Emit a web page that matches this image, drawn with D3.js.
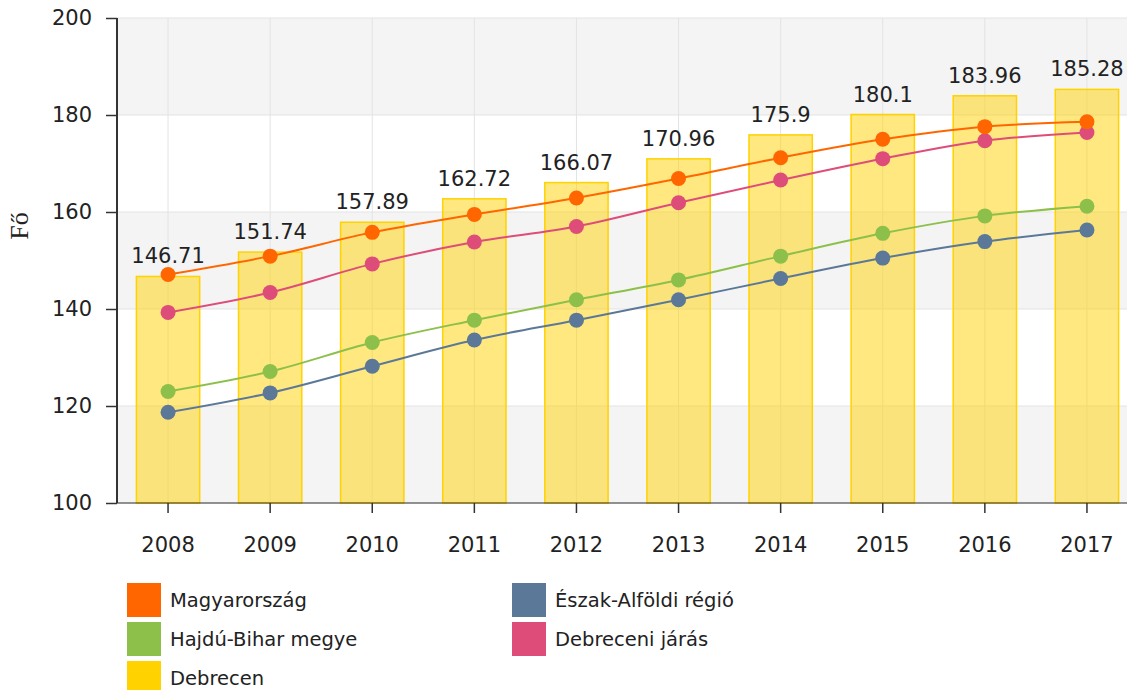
<!DOCTYPE html>
<html>
<head>
<meta charset="utf-8">
<script src="https://cdn.jsdelivr.net/npm/d3@7"></script>
<style>
  body { margin: 0; background: #fff; }
  text { font-family: "DejaVu Sans", Verdana, sans-serif; fill: #222; }
</style>
</head>
<body>
<script>
// data
var years = ["2008", "2009", "2010", "2011", "2012", "2013", "2014", "2015", "2016", "2017"];
var debrecen = [146.71, 151.74, 157.89, 162.72, 166.07, 170.96, 175.9, 180.1, 183.96, 185.28];
var magyarorszag = [147.1, 150.9, 155.8, 159.5, 162.9, 166.9, 171.2, 175.0, 177.6, 178.6];
var debreceniJaras = [139.3, 143.4, 149.3, 153.8, 157.0, 161.9, 166.6, 171.0, 174.7, 176.4];
var hajduBihar = [123.0, 127.1, 133.1, 137.7, 141.9, 146.0, 150.9, 155.6, 159.2, 161.2];
var eszakAlfold = [118.7, 122.7, 128.2, 133.6, 137.7, 141.9, 146.3, 150.5, 153.9, 156.3];
var yTicks = [100, 120, 140, 160, 180, 200];

var lineSeries = [
  {name: "Észak-Alföldi régió", values: eszakAlfold, color: "#5b7898"},
  {name: "Hajdú-Bihar megye", values: hajduBihar, color: "#8dc04a"},
  {name: "Debreceni járás", values: debreceniJaras, color: "#de4c79"},
  {name: "Magyarország", values: magyarorszag, color: "#ff6600"}
];

var legendItems = [
  {name: "Magyarország", color: "#ff6600"},
  {name: "Észak-Alföldi régió", color: "#5b7898"},
  {name: "Hajdú-Bihar megye", color: "#8dc04a"},
  {name: "Debreceni járás", color: "#de4c79"},
  {name: "Debrecen", color: "#ffd200"}
];

function makeChart() {
  const width = 1127, height = 690;
  const left = 117, right = 1138, top = 18, bottom = 503;

  const svg = d3.select("body").append("svg")
    .attr("width", width)
    .attr("height", height);

  let x = d3.scaleBand()
    .domain(years)
    .range([left, right])
    .paddingInner(0.38)
    .paddingOuter(0.19);
  let xc = function(d) { return x(d) + x.bandwidth() / 2; };

  let y = d3.scaleLinear()
    .domain([100, 200])
    .range([bottom, top]);

  // alternating background bands
  var bands = [];
  for (var i = 0; i < yTicks.length - 1; i++) {
    bands.push({from: yTicks[i], to: yTicks[i + 1], grey: i % 2 === 0});
  }
  svg.selectAll(".band")
    .data(bands).enter().append("rect")
      .attr("x", left)
      .attr("y", function(d) { return y(d.to); })
      .attr("width", width - left)
      .attr("height", function(d) { return y(d.from) - y(d.to); })
      .attr("fill", function(d) { return d.grey ? "#f4f4f4" : "#ffffff"; });

  // grid
  svg.selectAll(".hgrid")
    .data(yTicks).enter().append("line")
      .attr("x1", left).attr("x2", width)
      .attr("y1", function(d) { return y(d); })
      .attr("y2", function(d) { return y(d); })
      .attr("stroke", "#e3e3e3");
  svg.selectAll(".vgrid")
    .data(years).enter().append("line")
      .attr("x1", xc).attr("x2", xc)
      .attr("y1", top).attr("y2", bottom)
      .attr("stroke", "#e3e3e3");

  // bars (Debrecen)
  svg.selectAll(".bar")
    .data(debrecen).enter().append("rect")
      .attr("class", "bar")
      .attr("x", function(d, i) { return x(years[i]); })
      .attr("y", function(d) { return y(d); })
      .attr("width", x.bandwidth())
      .attr("height", function(d) { return bottom - y(d); })
      .attr("fill", "#ffd200")
      .attr("fill-opacity", 0.5)
      .attr("stroke", "#ffd200")
      .attr("stroke-width", 1.5);

  svg.selectAll(".barlabel")
    .data(debrecen).enter().append("text")
      .attr("x", function(d, i) { return xc(years[i]); })
      .attr("y", function(d) { return y(d) - 13; })
      .attr("text-anchor", "middle")
      .style("font-size", "21px")
      .text(function(d) { return d; });

  // lines
  var line = d3.line()
    .x(function(d, i) { return xc(years[i]); })
    .y(function(d) { return y(d); })
    .curve(d3.curveMonotoneX);

  lineSeries.forEach(function(s) {
    svg.append("path")
      .datum(s.values)
      .attr("d", line)
      .attr("fill", "none")
      .attr("stroke", s.color)
      .attr("stroke-width", 2);
    svg.selectAll(null)
      .data(s.values).enter().append("circle")
        .attr("cx", function(d, i) { return xc(years[i]); })
        .attr("cy", function(d) { return y(d); })
        .attr("r", 7.5)
        .attr("fill", s.color);
  });

  // y axis
  var yAxis = svg.append("g")
    .attr("transform", "translate(" + left + ",0)")
    .call(d3.axisLeft(y).tickValues(yTicks).tickSize(11).tickPadding(14));
  yAxis.select(".domain").attr("stroke", "#333").attr("stroke-width", 2)
    .attr("d", "M0," + top + "V" + bottom);
  yAxis.selectAll(".tick line").attr("stroke", "#333").attr("stroke-width", 1.5);
  yAxis.selectAll("text").style("font-size", "21px").attr("fill", "#222")
    .style("font-family", "DejaVu Sans, Verdana, sans-serif");

  // x axis
  var xAxis = svg.append("g")
    .attr("transform", "translate(0," + bottom + ")")
    .call(d3.axisBottom(x).tickSize(10).tickPadding(24));
  xAxis.select(".domain").attr("stroke", "#333").attr("d", "M" + left + ",0H" + width);
  xAxis.selectAll(".tick line").attr("stroke", "#333").attr("stroke-width", 1.5);
  xAxis.selectAll("text").style("font-size", "21px").attr("fill", "#222")
    .style("font-family", "DejaVu Sans, Verdana, sans-serif");

  // y label
  svg.append("text")
    .attr("transform", "translate(28,226) rotate(-90)")
    .attr("text-anchor", "middle")
    .style("font-family", "Liberation Serif, DejaVu Serif, serif")
    .style("font-size", "26px")
    .text("Fő");

  // legend
  var legend = svg.selectAll(".legend")
    .data(legendItems).enter().append("g")
      .attr("transform", function(d, i) {
        return "translate(" + (i % 2 === 0 ? 127 : 512) + "," + (583 + Math.floor(i / 2) * 39) + ")";
      });
  legend.append("rect")
    .attr("width", 34).attr("height", 34)
    .attr("fill", function(d) { return d.color; });
  legend.append("text")
    .attr("x", 43).attr("y", 17)
    .attr("dy", "0.35em")
    .style("font-size", "19.5px")
    .text(function(d) { return d.name; });
}

window.onload = function() {
  makeChart();
};
</script>
</body>
</html>
